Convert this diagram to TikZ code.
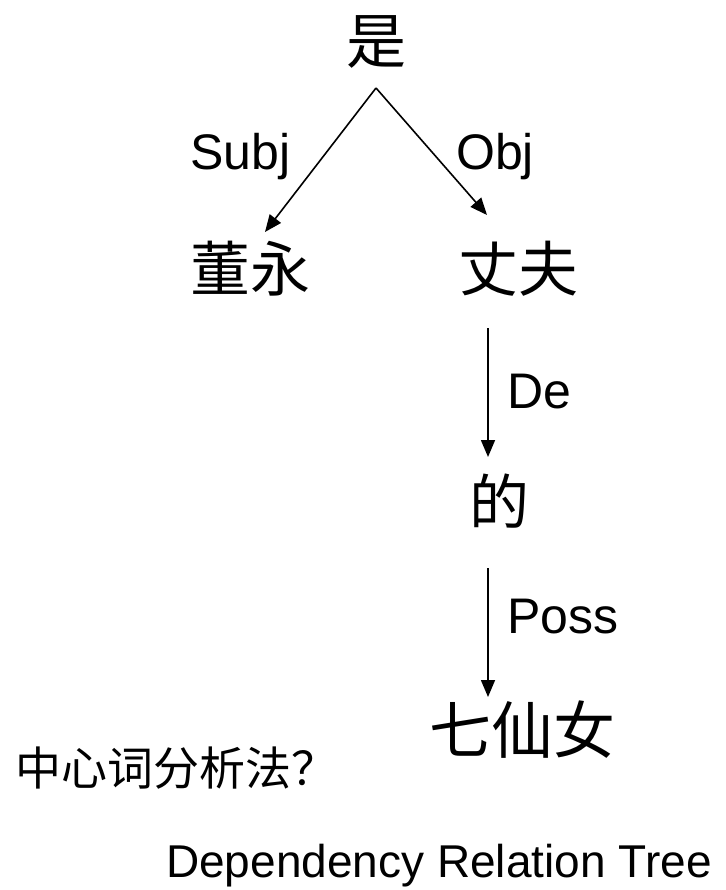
\documentclass[tikz,border=0pt]{standalone}
\usepackage{fontspec}
\setmainfont{Liberation Sans}
\newfontfamily\cjk{Noto Sans CJK SC}
\usetikzlibrary{arrows.meta}
\begin{document}
\begin{tikzpicture}[x=1pt,y=-1pt,
  word/.style={inner sep=0pt,anchor=base,font=\cjk\fontsize{60}{62}\selectfont},
  rel/.style={inner sep=0pt,anchor=base west,font=\fontsize{50}{52}\selectfont},
  dep/.style={-{Triangle[length=17pt,width=14pt]},line width=1.6pt}]
\useasboundingbox (0,0) rectangle (725,890);
\fill[white] (0,0) rectangle (725,890);
\node[word] (shi) at (376,64) {是};
\node[word] (dy) at (250,291) {董永};
\node[word] (zf) at (518,291) {丈夫};
\node[word] (de) at (499,524) {的};
\node[word,font=\cjk\fontsize{62}{64}\selectfont] (qxn) at (522,753) {七仙女};
\coordinate (apex) at (376,88);
\coordinate (subjend) at (265,232);
\coordinate (objend) at (487,215);
\coordinate (detop) at (488,328);
\coordinate (deend) at (488,457);
\coordinate (posstop) at (488,568);
\coordinate (possend) at (488,697);
\draw[dep] (apex) -- (subjend);
\draw[dep] (apex) -- (objend);
\draw[dep] (detop) -- (deend);
\draw[dep] (posstop) -- (possend);
\node[rel] (subj) at (190,170) {Subj};
\node[rel] (obj) at (456,170) {Obj};
\node[rel] (delab) at (507,408) {De};
\node[rel] (poss) at (507,633) {Poss};
\node[inner sep=0pt,anchor=base west,font=\cjk\fontsize{46}{48}\selectfont] (q) at (15,785) {中心词分析法？};
\node[inner sep=0pt,anchor=base west,font=\fontsize{46}{48}\selectfont] (title) at (166,877) {Dependency Relation Tree};
\end{tikzpicture}
\end{document}
